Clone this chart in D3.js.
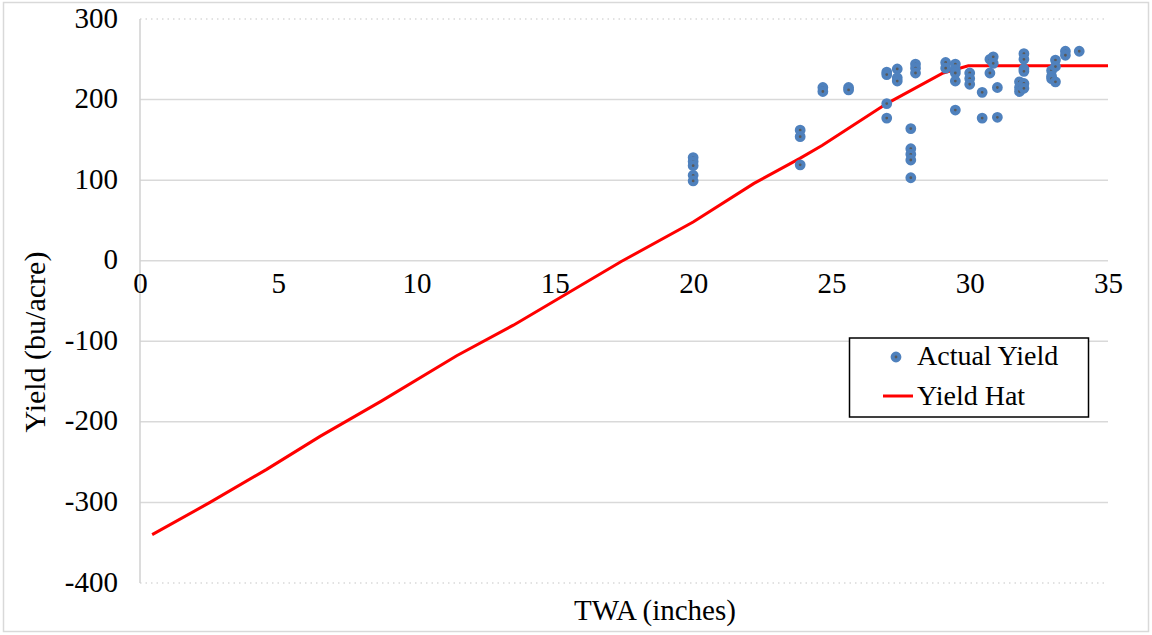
<!DOCTYPE html>
<html>
<head>
<meta charset="utf-8">
<script src="https://cdn.jsdelivr.net/npm/d3@7/dist/d3.min.js"></script>
<style>
  html, body { margin: 0; padding: 0; background: #fff; }
  svg { display: block; }
  svg text { font-family: "Liberation Serif", "Times New Roman", "DejaVu Serif", serif !important; fill: #000; }
</style>
</head>
<body>
<svg id="chart" width="1152" height="635"></svg>
<script>
// Observed yield by total water applied (TWA)
const twa = [
  20, 20, 20, 20, 20,
  23.87, 23.87, 23.87,
  24.69, 24.69,
  25.62, 25.62,
  27.0, 27.0, 27.0, 27.0,
  27.38, 27.38, 27.38,
  27.87, 27.87, 27.87, 27.87, 27.87,
  28.04, 28.04, 28.04,
  29.13, 29.13,
  29.48, 29.48, 29.48, 29.48, 29.48,
  30.0, 30.0, 30.0,
  30.45, 30.45,
  30.73, 30.73,
  30.85, 30.85,
  31.0, 31.0,
  31.8, 31.8, 31.8,
  31.96, 31.96, 31.96, 31.96, 31.96, 31.96,
  32.96, 32.96, 32.96,
  33.1, 33.1, 33.1,
  33.46, 33.46,
  33.96
];
const actualYield = [
  128, 123, 118, 106, 99,
  162, 154, 119,
  215, 210,
  215, 212,
  234, 231, 195, 177,
  238, 227, 223,
  164, 139, 132, 125, 103,
  244, 239, 233,
  246, 239,
  244, 237, 233, 223, 187,
  233, 226, 219,
  209, 177,
  250, 233,
  253, 245,
  215, 178,
  222, 215, 210,
  257, 250, 238, 235, 220, 214,
  236, 229, 226,
  249, 241, 222,
  260, 255,
  260
];

// Fitted (predicted) yield curve
const hatTwa   = [0.44, 2.53, 4.58, 6.51, 8.74, 11.45, 13.5, 17.4, 20.0, 22.2, 23.86, 24.66, 27.0, 29.04, 29.95, 35.0];
const hatYield = [-340, -300, -259, -218, -174, -118, -80, -1, 48, 96, 127, 143, 195, 233, 242, 242];

const xTicks = [0, 5, 10, 15, 20, 25, 30, 35];
const yTicks = [-400, -300, -200, -100, 0, 100, 200, 300];

const serif = '"Liberation Serif", "Times New Roman", "DejaVu Serif", serif';
const svg = d3.select("#chart");

// outer chart frame
svg.append("rect")
  .attr("x", 3.5).attr("y", 2.5)
  .attr("width", 1145).attr("height", 629)
  .attr("fill", "#fff").attr("stroke", "#d9d9d9").attr("stroke-width", 1.5);

const x = d3.scaleLinear().domain([0, 35]).range([140, 1108]);
const y = d3.scaleLinear().domain([-400, 300]).range([583, 19]);

// horizontal gridlines (top and bottom edges dotted)
svg.append("g").selectAll("line")
  .data(yTicks)
  .join("line")
  .attr("x1", x(0)).attr("x2", x(35))
  .attr("y1", d => y(d)).attr("y2", d => y(d))
  .attr("stroke", "#d9d9d9")
  .attr("stroke-width", 1.5)
  .attr("stroke-dasharray", d => (d === 300 || d === -400) ? "1.5,4" : null);

// vertical axis line
svg.append("line")
  .attr("x1", x(0)).attr("x2", x(0))
  .attr("y1", y(300)).attr("y2", y(-400))
  .attr("stroke", "#d0d0d0").attr("stroke-width", 1.5);

// y tick labels (plain hyphen for negatives)
const yAxis = d3.axisLeft(y).tickValues(yTicks).tickSize(0).tickPadding(22)
  .tickFormat(d => String(d));
const gy = svg.append("g").attr("transform", `translate(${x(0)},0)`).call(yAxis);
gy.attr("font-family", serif).attr("font-size", 29);
gy.select(".domain").remove();
gy.selectAll("text").attr("fill", "#000").attr("dy", "0.28em");

// x tick labels sit just below the zero line
const xAxis = d3.axisBottom(x).tickValues(xTicks).tickSize(0).tickPadding(12)
  .tickFormat(d => String(d));
const gx = svg.append("g").attr("transform", `translate(0,${y(0)})`).call(xAxis);
gx.attr("font-family", serif).attr("font-size", 29);
gx.select(".domain").remove();
gx.selectAll("text").attr("fill", "#000");

// fitted line
const line = d3.line().x(d => x(d[0])).y(d => y(d[1]));
svg.append("path")
  .datum(hatTwa.map((t, i) => [t, hatYield[i]]))
  .attr("d", line)
  .attr("fill", "none")
  .attr("stroke", "#ff0000")
  .attr("stroke-width", 3);

// observed points
svg.append("g").selectAll("circle")
  .data(twa.map((t, i) => [t, actualYield[i]]))
  .join("circle")
  .attr("cx", d => x(d[0]))
  .attr("cy", d => y(d[1]))
  .attr("r", 3.4)
  .attr("fill", "#595959")
  .attr("stroke", "#4f81bd")
  .attr("stroke-width", 4);

// axis titles
svg.append("text")
  .attr("x", 655).attr("y", 620)
  .attr("text-anchor", "middle")
  .attr("font-family", serif)
  .attr("font-size", 29)
  .text("TWA (inches)");

svg.append("text")
  .attr("transform", "translate(45,342) rotate(-90)")
  .attr("text-anchor", "middle")
  .attr("font-family", serif)
  .attr("font-size", 30)
  .text("Yield (bu/acre)");

// legend
const lg = svg.append("g").attr("font-family", serif).attr("font-size", 28);
lg.append("rect")
  .attr("x", 849.5).attr("y", 338)
  .attr("width", 239).attr("height", 79)
  .attr("fill", "#fff").attr("stroke", "#000").attr("stroke-width", 1.5);
lg.append("circle")
  .attr("cx", 896).attr("cy", 357).attr("r", 3.4)
  .attr("fill", "#595959").attr("stroke", "#4f81bd").attr("stroke-width", 4);
lg.append("text").attr("x", 917).attr("y", 365).text("Actual Yield");
lg.append("line")
  .attr("x1", 883).attr("x2", 913).attr("y1", 396).attr("y2", 396)
  .attr("stroke", "#ff0000").attr("stroke-width", 3);
lg.append("text").attr("x", 917).attr("y", 405).text("Yield Hat");
</script>
</body>
</html>
